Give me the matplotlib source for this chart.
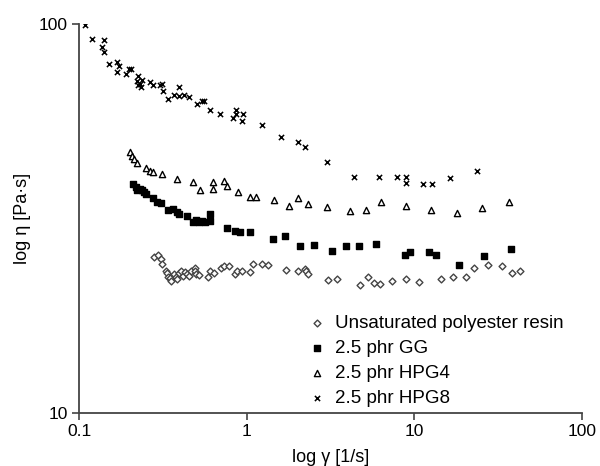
import matplotlib
matplotlib.use("Agg")
import matplotlib.pyplot as plt
from matplotlib.ticker import FixedLocator, FixedFormatter, NullLocator

plt.rcParams['font.family'] = ['Liberation Sans', 'DejaVu Sans']

# shear rate [1/s] and viscosity [Pa.s]
upr_rate = [0.279, 0.295, 0.306, 0.311, 0.329, 0.335, 0.341, 0.347, 0.354, 0.367,
            0.377, 0.384, 0.395, 0.406, 0.414, 0.429, 0.437, 0.453, 0.465, 0.488,
            0.492, 0.501, 0.520, 0.585, 0.607, 0.636, 0.703, 0.730, 0.778, 0.845,
            0.875, 0.934, 1.04, 1.09, 1.23, 1.33, 1.72, 2.03, 2.21, 2.27,
            2.33, 3.04, 3.45, 4.72, 5.27, 5.77, 6.27, 7.32, 8.87, 10.65,
            14.4, 16.9, 20.4, 22.6, 27.6, 33.2, 38.0, 42.5]
upr_visc = [25.2, 25.4, 24.8, 24.2, 23.2, 22.9, 22.4, 22.2, 21.8, 22.7,
            22.4, 22.1, 22.9, 23.2, 22.5, 23.0, 22.7, 22.5, 23.1, 23.5,
            23.1, 22.7, 22.6, 22.4, 23.1, 22.9, 23.6, 23.8, 23.9, 22.7,
            23.1, 23.2, 23.0, 24.2, 24.2, 24.0, 23.3, 23.1, 23.4, 23.1,
            22.7, 21.9, 22.1, 21.3, 22.3, 21.6, 21.4, 21.8, 22.1, 21.7,
            22.1, 22.4, 22.4, 23.5, 24.0, 23.8, 22.9, 23.2]

gg_rate = [0.210, 0.218, 0.222, 0.230, 0.238, 0.245, 0.252, 0.276, 0.292, 0.308,
           0.341, 0.364, 0.384, 0.395, 0.437, 0.475, 0.501, 0.520, 0.544, 0.564,
           0.607, 0.607, 0.763, 0.845, 0.917, 1.04, 1.435, 1.68, 2.09, 2.53,
           3.21, 3.89, 4.67, 5.93, 8.79, 9.47, 12.3, 13.5, 18.5, 25.9, 37.7]
gg_visc = [38.8, 38.1, 37.3, 37.6, 37.5, 37.0, 36.6, 35.6, 34.9, 34.6,
           33.3, 33.5, 32.9, 32.5, 32.1, 31.0, 31.4, 31.0, 31.1, 30.9,
           32.5, 31.1, 29.8, 29.4, 29.2, 29.1, 28.0, 28.4, 26.9, 27.0,
           26.0, 26.8, 26.9, 27.2, 25.5, 25.9, 25.9, 25.5, 24.0, 25.3, 26.4]

hpg4_rate = [0.201, 0.206, 0.212, 0.220, 0.252, 0.264, 0.276, 0.311, 0.381, 0.478,
             0.525, 0.625, 0.625, 0.729, 0.763, 0.892, 1.05, 1.13, 1.46, 1.79,
             2.03, 2.31, 3.01, 4.11, 5.17, 6.32, 8.87, 12.6, 17.9, 25.4, 36.6]
hpg4_visc = [46.7, 45.6, 44.9, 43.9, 42.7, 41.8, 41.7, 41.2, 39.9, 39.1,
             37.5, 39.1, 37.6, 39.4, 38.2, 36.9, 35.9, 35.9, 35.2, 34.1,
             35.6, 34.5, 33.9, 33.0, 33.3, 34.8, 34.1, 33.3, 32.7, 33.7, 34.8]

hpg8_rate = [0.108, 0.120, 0.140, 0.136, 0.140, 0.151, 0.169, 0.173, 0.169, 0.190,
             0.199, 0.205, 0.224, 0.222, 0.230, 0.234, 0.238, 0.224, 0.264, 0.274,
             0.303, 0.311, 0.317, 0.338, 0.367, 0.395, 0.421, 0.449, 0.395, 0.505,
             0.539, 0.554, 0.601, 0.690, 0.822, 0.859, 0.868, 0.934, 0.951, 1.24,
             1.60, 2.03, 2.23, 3.01, 4.39, 6.15, 7.88, 8.96, 8.96, 11.25,
             12.8, 16.2, 23.6]
hpg8_visc = [99.4, 91.5, 90.8, 86.9, 84.6, 78.8, 79.7, 77.9, 75.1, 74.5,
             76.3, 76.6, 73.6, 71.4, 70.2, 68.6, 71.7, 69.7, 71.0, 69.7,
             69.4, 70.2, 67.0, 64.2, 65.7, 65.2, 65.5, 64.9, 68.9, 62.2,
             63.2, 63.4, 60.0, 58.5, 57.4, 60.1, 58.7, 56.4, 58.5, 54.9,
             51.3, 49.7, 48.2, 44.2, 40.4, 40.4, 40.4, 40.4, 39.0, 38.7,
             38.8, 40.2, 41.8]

fig = plt.figure(figsize=(6.0, 4.66), dpi=100)
ax = fig.add_axes([0.132, 0.114, 0.838, 0.835])

ax.scatter(upr_rate, upr_visc, marker='D', s=12, facecolors='white',
           edgecolors='#444444', linewidths=1.0, label='Unsaturated polyester resin', zorder=3)
ax.scatter(gg_rate, gg_visc, marker='s', s=20, color='black',
           label='2.5 phr GG', zorder=3)
ax.scatter(hpg4_rate, hpg4_visc, marker='^', s=20, facecolors='white',
           edgecolors='black', linewidths=1.0, label='2.5 phr HPG4', zorder=3)
ax.scatter(hpg8_rate, hpg8_visc, marker='x', s=14, color='black',
           linewidths=1.1, label='2.5 phr HPG8', zorder=3)

ax.set_xscale('log')
ax.set_yscale('log')
ax.set_xlim(0.1, 100)
ax.set_ylim(10, 100)

ax.xaxis.set_major_locator(FixedLocator([0.1, 1, 10, 100]))
ax.xaxis.set_major_formatter(FixedFormatter(['0.1', '1', '10', '100']))
ax.yaxis.set_major_locator(FixedLocator([10, 100]))
ax.yaxis.set_major_formatter(FixedFormatter(['10', '100']))
ax.xaxis.set_minor_locator(NullLocator())
ax.yaxis.set_minor_locator(NullLocator())

for side in ['top', 'right']:
    ax.spines[side].set_visible(False)
for side in ['left', 'bottom']:
    ax.spines[side].set_color('#444444')
    ax.spines[side].set_linewidth(1.3)
ax.tick_params(direction='out', length=5, width=1.2, color='#444444',
               labelsize=12.5, pad=3)

ax.set_xlabel('log γ [1/s]', fontsize=13, labelpad=7)
ax.set_ylabel('log η [Pa·s]', fontsize=13, labelpad=6)

ax.legend(loc='upper left', bbox_to_anchor=(0.455, 0.253), frameon=False,
          fontsize=13.5, handlelength=1.0, handletextpad=0.45, labelspacing=0.42,
          borderpad=0, borderaxespad=0, scatterpoints=1, markerscale=1.0)

fig.savefig('out.png', dpi=100)
